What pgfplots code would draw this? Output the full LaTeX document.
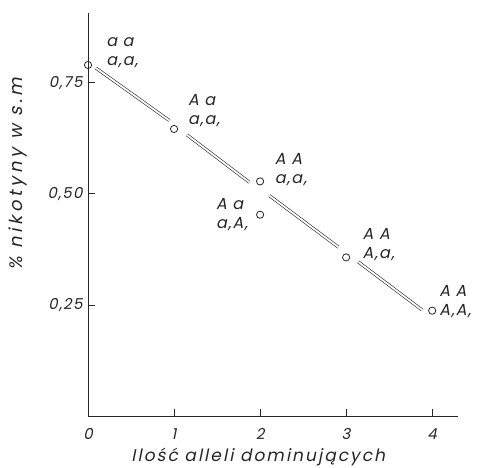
\documentclass[border=0pt]{standalone}
\usepackage{pgfplots}
\pgfplotsset{compat=1.18}
\usepackage{fontspec}
\setmainfont{Poppins}[FakeSlant=0.2, LetterSpace=10]
\newfontfamily\xlabfont{Poppins}[FakeSlant=0.2, LetterSpace=12]
\newfontfamily\ylabfont{Poppins}[FakeSlant=0.2, LetterSpace=20]
\newfontfamily\tickfont{Poppins}[FakeSlant=0.2, LetterSpace=8]
\newfontfamily\ptfont{Poppins}[FakeSlant=0.2, LetterSpace=8]
\definecolor{ink}{gray}{0.15}
\begin{document}
\begin{tikzpicture}
\begin{axis}[
  at={(0pt,0pt)}, anchor=origin,
  scale only axis, width=370pt, height=403pt,
  xmin=0, xmax=4.3, ymin=0, ymax=0.907,
  axis lines=left, axis line style={-, ink, line width=0.8pt},
  xtick={0,1,2,3,4}, xticklabels={0,1,2,3,4},
  ytick={0.25,0.5,0.75}, yticklabels={{0,25},{0,50},{0,75}},
  tick align=inside, major tick length=7pt, tick style={ink, line width=0.8pt},
  ticklabel style={font=\tickfont\fontsize{15}{17}\selectfont, text=ink},
  /pgf/number format/assume math mode=true,
  xticklabel style={yshift=-9pt},
  yticklabel style={xshift=-2pt},
  xlabel={Ilość alleli dominujących}, ylabel={\% nikotyny w s.m},
  xlabel style={font=\xlabfont\fontsize{17}{19}\selectfont, text=ink, at={(rel axis cs:0.46,0)}, anchor=center, yshift=-41pt},
  ylabel style={font=\ylabfont\fontsize{18}{20}\selectfont, text=ink, at={(rel axis cs:-0.19,0.6)}, anchor=center},
  clip=false,
]
\addplot[ink, no marks, line width=0.6pt, double=white, double distance=1.8pt] coordinates {(0.093,0.783) (0.945,0.665)};
\addplot[ink, no marks, line width=0.6pt, double=white, double distance=1.8pt] coordinates {(1.148,0.633) (1.876,0.526)};
\addplot[ink, no marks, line width=0.6pt, double=white, double distance=1.8pt] coordinates {(2.108,0.496) (2.91,0.38)};
\addplot[ink, no marks, line width=0.6pt, double=white, double distance=1.8pt] coordinates {(3.14,0.347) (3.88,0.239)};
\addplot[ink, only marks, mark=o, mark size=3.6pt, mark options={line width=0.8pt, fill=white}] coordinates {(0,0.79) (1,0.646) (2,0.528) (2,0.453) (3,0.357) (4,0.237)};
\begin{scope}[every node/.style={align=left, inner sep=0pt, text=ink, font=\ptfont\fontsize{16}{19}\selectfont}]
\node[anchor=west] at (axis cs:0.21,0.818) {a a\\a,a,};
\node[anchor=west] at (axis cs:1.16,0.687) {A a\\a,a,};
\node[anchor=west] at (axis cs:2.17,0.554) {A A\\a,a,};
\node[anchor=east] at (axis cs:1.86,0.453) {A a\\a,A,};
\node[anchor=west] at (axis cs:3.19,0.385) {A A\\A,a,};
\node[anchor=west] at (axis cs:4.08,0.257) {A A\\A,A,};
\end{scope}
\end{axis}
\pgfresetboundingbox
\path[use as bounding box] (-88pt,-52pt) rectangle (395pt,416pt);
\end{tikzpicture}
\end{document}
